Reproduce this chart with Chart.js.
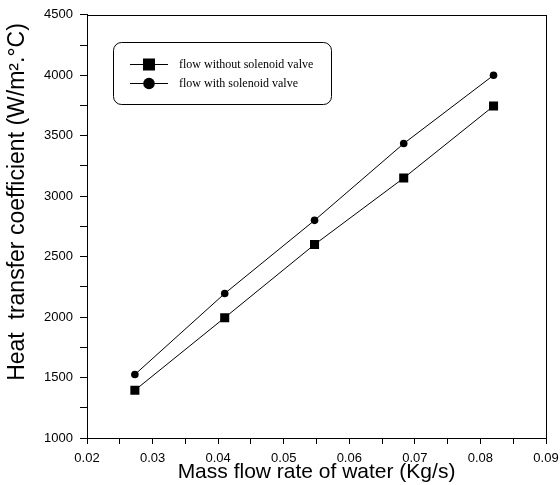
<!DOCTYPE html>
<html>
<head>
<meta charset="utf-8">
<script src="https://cdn.jsdelivr.net/npm/chart.js@4.4.1/dist/chart.umd.min.js"></script>
<style>
  html, body { margin: 0; padding: 0; background: #fff; }
  #wrap { width: 560px; height: 485px; position: relative; }
</style>
</head>
<body>
<div id="wrap"><canvas id="c" width="560" height="485"></canvas></div>
<script>
// ---- data ----
const massFlow = [0.0273, 0.041, 0.0547, 0.0683, 0.082];
const withoutValve = [1395, 1995, 2600, 3150, 3745];
const withValve = [1525, 2195, 2800, 3435, 4000];
const seriesLabels = ['flow without solenoid valve', 'flow with solenoid valve'];
const xTitle = 'Mass flow rate of water (Kg/s)';
const yTitle = 'Heat  transfer coefficient (W/m\u00B2.\u00B0C)';

const toPoints = (xs, ys) => xs.map((x, i) => ({ x: x, y: ys[i] }));

Chart.defaults.color = '#000';
Chart.defaults.font.family = '"Liberation Sans", Arial, sans-serif';

const framePlugin = {
  id: 'frame',
  afterDraw(chart) {
    const { ctx, chartArea: a } = chart;
    ctx.save();
    ctx.strokeStyle = '#000';
    ctx.lineWidth = 1;
    ctx.strokeRect(Math.round(a.left) + 0.5, Math.round(a.top) + 0.5,
      Math.round(a.right - a.left), Math.round(a.bottom - a.top));
    ctx.restore();
  }
};

// y-axis title (placed slightly above the axis centre, as in the original)
const yTitlePlugin = {
  id: 'yTitle',
  afterDraw(chart) {
    const { ctx } = chart;
    ctx.save();
    ctx.translate(18, 202);
    ctx.rotate(-Math.PI / 2);
    ctx.font = '23px "Liberation Sans", Arial, sans-serif';
    ctx.fillStyle = '#000';
    ctx.textAlign = 'center';
    ctx.textBaseline = 'middle';
    ctx.fillText(yTitle, 0, 0);
    ctx.restore();
  }
};

const legendPlugin = {
  id: 'boxLegend',
  afterDraw(chart) {
    const { ctx } = chart;
    const bx = 113.5, by = 42.5, bw = 218, bh = 62, r = 8;
    ctx.save();
    ctx.strokeStyle = '#000';
    ctx.lineWidth = 1;
    ctx.beginPath();
    ctx.roundRect(bx, by, bw, bh, r);
    ctx.stroke();
    const rows = [64, 83];
    chart.data.datasets.forEach((ds, i) => {
      const y = rows[i];
      ctx.strokeStyle = '#000';
      ctx.lineWidth = 1;
      ctx.beginPath();
      ctx.moveTo(130, y + 0.5);
      ctx.lineTo(168, y + 0.5);
      ctx.stroke();
      ctx.fillStyle = '#000';
      if (ds.pointStyle === 'rect') {
        ctx.fillRect(143, y - 5.5, 12, 12);
      } else {
        ctx.beginPath();
        ctx.arc(149, y + 0.5, 5.8, 0, Math.PI * 2);
        ctx.fill();
      }
      ctx.font = '12px "Liberation Serif", "Times New Roman", serif';
      ctx.textBaseline = 'middle';
      ctx.textAlign = 'left';
      ctx.fillText(ds.label, 179, y + 0.5);
    });
    ctx.restore();
  }
};

new Chart(document.getElementById('c'), {
  type: 'scatter',
  data: {
    datasets: [
      {
        label: seriesLabels[0],
        data: toPoints(massFlow, withoutValve),
        showLine: true,
        borderColor: '#000',
        backgroundColor: '#000',
        borderWidth: 1,
        pointStyle: 'rect',
        pointRadius: 6.4,
        pointBorderWidth: 0
      },
      {
        label: seriesLabels[1],
        data: toPoints(massFlow, withValve),
        showLine: true,
        borderColor: '#000',
        backgroundColor: '#000',
        borderWidth: 1,
        pointStyle: 'circle',
        pointRadius: 3.8,
        pointBorderWidth: 0
      }
    ]
  },
  options: {
    responsive: false,
    animation: false,
    layout: { padding: { top: 14, right: 14, left: 0, bottom: 0 } },
    plugins: { legend: { display: false }, tooltip: { enabled: false } },
    scales: {
      x: {
        type: 'linear',
        min: 0.02,
        max: 0.09,
        afterFit(s) { s.height = 47; s.paddingRight = 0; s.paddingLeft = 0; },
        afterBuildTicks(s) {
          const t = [];
          for (let k = 0; k <= 14; k++) t.push({ value: +(0.02 + k * 0.005).toFixed(3) });
          s.ticks = t;
        },
        ticks: {
          autoSkip: false,
          maxRotation: 0,
          padding: 7,
          font: { size: 13 },
          callback(v) {
            const k = Math.round(v * 1000);
            return k % 10 === 0 ? v.toFixed(2) : '';
          }
        },
        grid: { drawOnChartArea: false, drawTicks: true, tickLength: 6, tickColor: '#000' },
        border: { display: true, color: '#000', width: 1 },
        title: {
          display: true,
          text: xTitle,
          font: { size: 21 },
          padding: { top: 0, bottom: 0 }
        }
      },
      y: {
        type: 'linear',
        min: 1000,
        max: 4500,
        afterFit(s) { s.width = 87; },
        ticks: {
          stepSize: 250,
          autoSkip: false,
          padding: 7,
          font: { size: 13 },
          callback(v) { return v % 500 === 0 ? String(v) : ''; }
        },
        grid: { drawOnChartArea: false, drawTicks: true, tickLength: 7, tickColor: '#000' },
        border: { display: true, color: '#000', width: 1 },
        title: { display: false, text: yTitle }
      }
    }
  },
  plugins: [framePlugin, yTitlePlugin, legendPlugin]
});
</script>
</body>
</html>
